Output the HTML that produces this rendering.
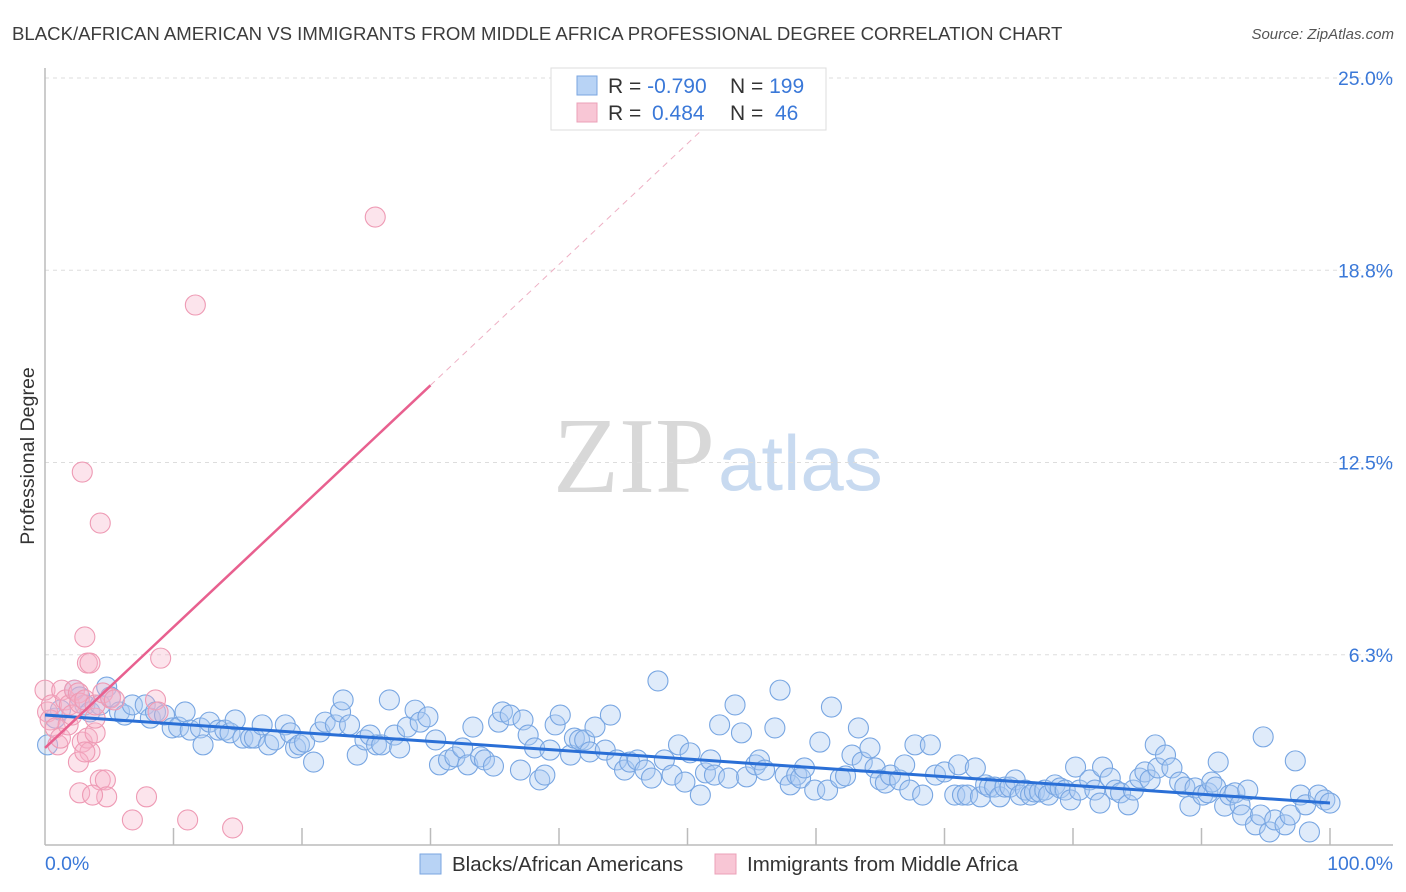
<!DOCTYPE html>
<html><head><meta charset="utf-8"><style>
body{margin:0;background:#fff;font-family:"Liberation Sans",sans-serif;}
svg{display:block}
</style></head><body>
<svg id="chart" width="1406" height="892">
<text x="12" y="40" font-size="18.6" fill="#3c3c3c">BLACK/AFRICAN AMERICAN VS IMMIGRANTS FROM MIDDLE AFRICA PROFESSIONAL DEGREE CORRELATION CHART</text>
<text x="1394" y="39" font-size="15" font-style="italic" fill="#555" text-anchor="end">Source: ZipAtlas.com</text>
<g>
<text x="553" y="492" font-size="108" font-family="Liberation Serif,serif" fill="#d8d8d8">ZIP</text>
<text x="718" y="490" font-size="78" fill="#c8daf0">atlas</text>
</g>
<g id="grid"></g>
<g id="axes"></g>
<g id="marks"></g>
<text transform="translate(34,456) rotate(-90)" font-size="19.6" fill="#333" text-anchor="middle">Professional Degree</text>
<g>
<rect x="551" y="68" width="275" height="62" fill="#fff" stroke="#ddd"/>
<rect x="577" y="76" width="20" height="19" fill="#b8d3f5" stroke="#7aa6e0"/>
<rect x="577" y="103" width="20" height="19" fill="#f8c6d5" stroke="#eba0b8"/>
<text x="608" y="93" font-size="21" fill="#333">R = <tspan fill="#3a78d8">-0.790</tspan></text>
<text x="730" y="93" font-size="21" fill="#333">N = <tspan fill="#3a78d8">199</tspan></text>
<text x="608" y="120" font-size="21" fill="#333">R = <tspan fill="#3a78d8" x="652">0.484</tspan></text>
<text x="730" y="120" font-size="21" fill="#333">N = <tspan fill="#3a78d8" x="775">46</tspan></text>
</g>
<g>
<rect x="420" y="854" width="21" height="20" fill="#b8d3f5" stroke="#7aa6e0"/>
<text x="452" y="871" font-size="20.5" fill="#333">Blacks/African Americans</text>
<rect x="715" y="854" width="21" height="20" fill="#f8c6d5" stroke="#eba0b8"/>
<text x="747" y="871" font-size="20.5" fill="#333">Immigrants from Middle Africa</text>
</g>
</svg>
<script>
const yTicks=[6.25,12.5,18.75,25];
const yTickLabels=["6.3%","12.5%","18.8%","25.0%"];
const xTicks=[10,20,30,40,50,60,70,80,90,100];
const blueX=[0.2,0.8,1.2,2.3,2.7,3.1,3.5,4.3,4.8,5.1,5.8,6.2,6.8,7.8,8.2,8.6,9.3,9.9,10.4,10.9,11.3,12.1,12.3,12.8,13.5,14.0,14.4,14.8,15.4,16.0,16.3,16.9,17.4,17.9,18.7,19.1,19.5,19.8,20.2,20.9,21.4,21.8,22.6,23.0,23.2,23.7,24.3,24.9,25.3,25.8,26.2,26.8,27.2,27.6,28.2,28.8,29.2,29.8,30.4,30.7,31.4,31.9,32.5,32.9,33.3,33.9,34.2,34.9,35.3,35.6,36.2,37.0,37.2,37.6,38.1,38.5,38.9,39.3,39.7,40.1,40.9,41.2,41.6,42.0,42.4,42.8,43.6,44.0,44.5,45.1,45.5,46.1,46.7,47.2,47.7,48.2,48.8,49.3,49.8,50.2,51.0,51.4,51.8,52.1,52.5,53.2,53.7,54.2,54.6,55.3,55.6,56.0,56.8,57.2,57.6,58.0,58.5,58.8,59.1,59.9,60.3,60.9,61.2,61.9,62.3,62.8,63.3,63.6,64.2,64.6,65.0,65.4,65.8,66.5,66.9,67.3,67.7,68.3,68.9,69.3,70.0,70.8,71.1,71.4,71.8,72.4,72.8,73.2,73.5,73.9,74.3,74.7,75.1,75.5,75.9,76.3,76.7,77.0,77.4,77.8,78.1,78.6,79.0,79.4,79.8,80.2,80.5,81.3,81.7,82.1,82.3,82.9,83.3,83.7,84.3,84.7,85.2,85.6,86.0,86.4,86.6,87.2,87.7,88.3,88.7,89.1,89.5,90.1,90.5,90.8,91.1,91.3,91.8,92.2,92.6,93.0,93.2,93.6,94.2,94.6,94.8,95.3,95.7,96.5,96.9,97.3,97.7,98.1,98.4,99.1,99.6,100];
const blueY=[3.32,4.19,4.45,5.10,4.88,4.62,4.39,4.62,5.20,4.88,4.39,4.29,4.62,4.62,4.19,4.39,4.29,3.87,3.90,4.39,3.80,3.87,3.32,4.06,3.80,3.80,3.71,4.13,3.54,3.54,3.54,3.97,3.32,3.48,3.97,3.71,3.22,3.32,3.41,2.76,3.74,4.06,3.97,4.39,4.78,3.97,2.99,3.48,3.64,3.32,3.32,4.78,3.64,3.22,3.90,4.45,4.06,4.23,3.48,2.67,2.83,2.93,3.22,2.67,3.90,2.93,2.83,2.63,4.06,4.39,4.29,2.50,4.13,3.64,3.22,2.18,2.34,3.15,3.97,4.29,2.99,3.54,3.48,3.48,3.09,3.90,3.15,4.29,2.83,2.50,2.76,2.83,2.50,2.24,5.40,2.83,2.34,3.32,2.11,3.06,1.69,2.41,2.83,2.34,3.97,2.24,4.62,3.71,2.28,2.67,2.83,2.50,3.87,5.10,2.34,2.02,2.34,2.24,2.57,1.85,3.41,1.85,4.55,2.24,2.31,2.99,3.87,2.76,3.22,2.57,2.18,2.08,2.34,2.18,2.67,1.85,3.32,1.69,3.32,2.34,2.44,1.69,2.67,1.69,1.69,2.57,1.63,2.02,1.95,1.95,1.63,1.95,1.95,2.18,1.69,1.85,1.69,1.79,1.79,1.85,1.69,2.02,1.92,1.85,1.53,2.60,1.85,2.18,1.85,1.43,2.60,2.24,1.85,1.76,1.37,1.85,2.24,2.44,2.18,3.32,2.57,2.99,2.57,2.11,1.95,1.33,1.92,1.69,1.76,2.11,1.95,2.76,1.33,1.69,1.76,1.37,1.04,1.85,0.72,1.04,3.58,0.49,0.88,0.72,1.04,2.80,1.69,1.37,0.49,1.69,1.53,1.43];
const pinkX=[0,0.2,0.4,0.5,0.8,1.0,1.2,1.3,1.6,1.8,1.9,2.1,2.3,2.6,2.7,2.9,3.1,3.3,3.5,2.6,2.7,3.1,3.3,3.5,3.1,3.9,3.9,4.3,2.9,3.9,4.3,4.7,4.8,3.7,4.5,5.1,5.4,6.8,7.9,8.6,8.8,9.0,11.1,11.7,14.6,25.7];
const pinkY=[5.10,4.39,4.13,4.62,3.87,3.32,3.54,5.10,4.78,3.97,4.62,4.29,5.10,5.01,4.68,3.41,4.78,3.54,3.09,2.76,1.76,3.09,5.98,5.98,6.83,3.71,4.19,10.53,12.19,4.62,2.18,2.18,1.63,1.69,5.01,4.84,4.78,0.88,1.63,4.78,4.39,6.14,0.88,17.62,0.62,20.48];
const blueTrend=[4.29,1.43];
const pinkTrend=[3.22,0.393];

const NS="http://www.w3.org/2000/svg";
const X0=45,X1=1330,Y0=847,YPER=30.76;
function sx(v){return X0+(X1-X0)*v/100;}
function sy(v){return Y0-v*YPER;}
function mk(tag,attrs,parent){const e=document.createElementNS(NS,tag);for(const k in attrs)e.setAttribute(k,attrs[k]);parent.appendChild(e);return e;}
const grid=document.getElementById('grid'),axes=document.getElementById('axes'),marks=document.getElementById('marks');
yTicks.forEach((t,i)=>{
 const l=mk('line',{x1:45,x2:1393,y1:sy(t),y2:sy(t),stroke:'#ddd','stroke-dasharray':'4,4'},grid);
 
 
 const tx=mk('text',{x:1393,y:sy(t)+7,'font-size':19.4,fill:'#3a78d8','text-anchor':'end'},grid);
 tx.textContent=yTickLabels[i];
 
 
});
const ya=mk('line',{x1:45,x2:45,y1:68,y2:845,stroke:'#bbb','stroke-width':1.5},axes);


const xa=mk('line',{x1:45,x2:1393,y1:845,y2:845,stroke:'#bbb','stroke-width':1.5},axes);


xTicks.forEach(t=>{
 const l=mk('line',{x1:sx(t),x2:sx(t),y1:828,y2:845,stroke:'#bbb','stroke-width':1.5},axes);
 
 
});
const xl0=mk('text',{x:45,y:870,'font-size':19.4,fill:'#3a78d8'},axes);xl0.textContent='0.0%';


const xl1=mk('text',{x:1393,y:870,'font-size':19.4,fill:'#3a78d8','text-anchor':'end'},axes);xl1.textContent='100.0%';


blueX.forEach((x,i)=>{
 const c=mk('circle',{cx:sx(x),cy:sy(blueY[i]),r:10,fill:'rgba(170,202,242,0.38)',stroke:'#78a6e2','stroke-width':1.1},marks);
 
 
});
pinkX.forEach((x,i)=>{
 const c=mk('circle',{cx:sx(x),cy:sy(pinkY[i]),r:10,fill:'rgba(246,178,200,0.35)',stroke:'#ee9ab4','stroke-width':1.1},marks);
 
 
});
const bl=mk('line',{x1:sx(0),y1:sy(blueTrend[0]),x2:sx(100),y2:sy(blueTrend[1]),stroke:'#2a6fd6','stroke-width':3},marks);


const pl=mk('line',{x1:sx(0),y1:sy(pinkTrend[0]),x2:sx(30),y2:sy(pinkTrend[0]+pinkTrend[1]*30),stroke:'#e8608f','stroke-width':2.5},marks);


const pd=mk('line',{x1:sx(30),y1:sy(pinkTrend[0]+pinkTrend[1]*30),x2:sx(52.5),y2:sy(pinkTrend[0]+pinkTrend[1]*52.5),stroke:'#eeb0c4','stroke-width':1,'stroke-dasharray':'6,5'},marks);


</script>
</body></html>
